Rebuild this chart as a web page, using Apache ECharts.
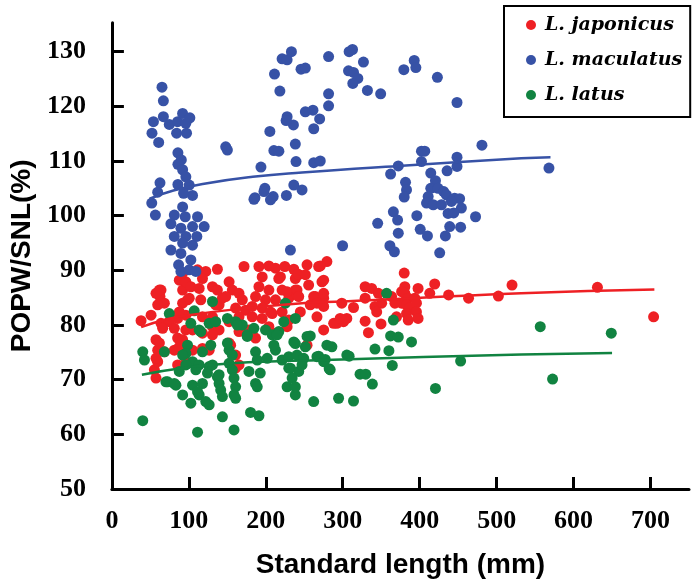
<!DOCTYPE html>
<html>
<head>
<meta charset="utf-8">
<script src="https://cdn.jsdelivr.net/npm/echarts@6/dist/echarts.min.js"></script>
<style>
html,body{margin:0;padding:0;background:#fff;}
#main{width:693px;height:585px;}
</style>
</head>
<body>
<div id="main"></div>
<script>
//数据
var seriesNames = ['L. japonicus', 'L. maculatus', 'L. latus'];
var xTicks = [0, 100, 200, 300, 400, 500, 600, 700];
var yTicks = [50, 60, 70, 80, 90, 100, 110, 120, 130];

var japonicus = [
	[37.9,80.8],[50.9,81.8],[63.8,86.4],[62.5,85.2],[68.2,84.0],[63.8,80.3],[91.9,86.4],[87.6,88.2],[111.3,90.1],[122.0,89.8],
	[137.1,90.2],[96.1,87.9],[102.6,87.0],[98.3,84.6],[115.5,84.6],[91.9,84.0],[130.7,87.0],[137.1,86.4],[117.7,81.5],[96.1,81.8],
	[85.4,81.2],[74.6,80.6],[152.3,87.9],[156.5,86.4],[147.9,85.2],[165.2,85.8],[169.5,84.6],[160.8,83.1],[173.7,82.7],[165.2,81.5],
	[171.7,90.7],[191.1,90.7],[204.0,90.8],[212.6,90.4],[224.7,90.7],[236.4,90.2],[195.3,88.8],[216.9,88.5],[238.4,88.5],[191.1,87.0],
	[204.0,86.4],[221.2,86.4],[238.4,86.4],[186.7,85.2],[199.6,84.6],[212.6,84.6],[229.9,84.9],[182.4,83.4],[195.3,83.1],[208.3,82.1],
	[182.4,81.5],[195.3,81.2],[139.3,83.7],[130.7,81.5],[221.2,82.4],
	[61.7,86.4],[59.5,83.7],[57.3,77.3],[59.5,75.4],[55.2,71.8],[59.5,73.3],[81.1,79.4],[85.4,77.6],[81.1,75.4],[91.9,77.3],
	[96.1,79.1],[104.8,79.1],[117.7,78.5],[130.7,79.7],[139.3,79.1],[126.4,75.4],[160.8,72.1],[152.3,76.7],[165.2,78.8],[178.1,79.1],
	[186.7,77.6],[212.6,78.5],[204.0,79.7],[227.7,79.7],[229.9,80.9],
	[57.3,85.8],[66.0,79.4],[61.7,76.7],[68.2,75.1],[57.3,73.9],[57.3,70.3],[85.4,72.7],[87.6,76.0],[91.9,89.5],[117.7,88.5],
	[100.5,84.9],[113.4,86.7],[134.9,83.7],[87.6,82.4],[143.6,84.9],[152.3,80.6],[130.7,78.2],[117.7,75.7],[104.8,75.4],[96.1,73.3],
	[253.6,91.0],[268.7,90.7],[279.4,91.6],[275.2,88.2],[255.7,87.3],[242.8,89.2],[219.0,88.8],[227.7,86.1],[240.6,85.5],[264.3,85.2],
	[257.8,83.7],[275.2,84.9],[298.8,84.0],[266.5,81.5],[292.3,80.3],[301.0,80.6],[275.2,79.1],[253.6,76.3],[206.1,82.4],[154.3,76.3],
	[160.8,74.5],[165.2,72.7],
	[270.8,90.8],[241.9,89.3],[251.4,89.2],[273.0,87.9],[240.6,86.4],[242.8,85.2],[262.2,85.2],[275.2,85.8],[266.5,84.0],[275.2,83.4],
	[244.9,82.4],[314.0,83.2],[288.2,80.3],[296.6,81.2],[305.3,81.2],[329.1,87.0],[337.6,86.7],[346.3,85.8],[329.1,84.9],[341.9,83.4],
	[350.6,84.0],[344.1,82.4],[329.1,80.7],[333.4,78.6],[349.7,80.2],[379.9,89.5],[380.7,87.0],[376.5,86.1],[363.5,85.2],[367.8,84.0],
	[380.7,85.8],[385.1,84.9],[376.5,84.0],[382.9,83.7],[387.2,83.1],[397.9,86.7],[393.6,84.9],[395.8,84.0],[382.9,82.1],[395.8,82.4],
	[385.1,80.9],[397.9,81.2],[369.9,81.5],[419.5,87.5],[413.1,85.8],[437.6,85.5],[463.5,84.9],[502.3,85.3],[520.0,87.3],[631.0,86.9],
	[704.0,81.5]
];

var maculatus = [
	[65.1,123.5],[66.9,121.0],[66.9,118.1],[54.0,117.2],[52.1,115.1],[60.8,113.4],[74.6,116.7],[85.4,117.2],[91.9,118.7],[101.3,117.9],
	[96.1,116.9],[84.1,115.1],[97.0,115.1],[85.8,111.5],[90.2,110.2],[85.8,109.4],[91.9,108.4],[96.1,107.1],[85.8,105.7],[100.5,105.6],
	[62.5,106.0],[59.5,104.3],[104.8,103.7],[147.9,112.6],[150.1,112.0],[193.7,108.9],[198.8,105.0],[185.9,103.3],[209.6,103.5],[226.8,103.7],
	[236.4,105.6],[239.3,109.9],[238.4,113.1],[235.9,116.6],[227.7,118.1],[226.4,117.4],[205.3,115.4],[210.5,111.9],[217.0,111.8],[218.3,122.8],
	[211.3,125.9],[221.2,128.7],[227.7,128.5],[233.3,130.0],[245.8,126.8],[251.4,127.0],[281.6,129.1],[308.3,130.0],[312.7,130.4],[326.9,128.1],
	[307.5,126.5],[314.0,126.2],[319.6,125.1],[313.1,124.2],[332.1,122.9],[349.3,122.3],[281.6,122.3],[281.6,120.1],[251.4,119.0],[261.3,119.3],
	[270.0,117.7],[262.3,115.9],[262.3,109.7],[270.8,110.0],[247.1,104.7],[379.4,126.7],[392.9,128.4],[395.0,127.1],[423.0,125.3],[448.5,120.7],
	[480.9,112.9],[402.3,111.8],[406.6,111.8],[402.3,109.9],[448.5,110.7],[448.5,109.0],[435.6,108.2],[372.2,109.1],[362.2,107.6],[414.4,107.8],
	[381.6,106.1],[382.9,104.7],[420.5,106.4],[414.4,105.0],[423.9,105.0],[431.2,104.4],[434.7,103.8],[379.9,103.4],[411.0,103.5],[445.4,103.2],
	[451.9,103.1],[51.8,102.3],[56.5,100.1],[93.2,104.1],[91.9,101.6],[81.1,100.1],[95.3,99.8],[111.3,99.8],[76.7,98.5],[89.7,97.7],
	[104.8,98.0],[119.9,98.0],[81.1,96.2],[96.1,96.2],[110.4,96.2],[91.9,95.0],[104.8,94.6],[76.7,93.7],[89.7,93.1],[102.6,91.9],
	[86.7,91.0],[89.7,89.8],[100.5,90.1],[109.1,89.8],[184.6,103.0],[206.1,102.9],[232.0,93.7],[197.6,104.4],[408.9,102.3],[417.6,102.0],
	[428.3,102.0],[441.2,102.6],[454.2,101.4],[436.9,100.4],[444.2,100.5],[472.6,99.8],[365.8,100.7],[371.3,99.2],[396.3,100.0],[345.4,98.6],
	[400.7,97.5],[410.1,96.3],[439.0,98.0],[453.2,97.9],[433.4,96.3],[372.2,96.8],[361.3,94.5],[367.1,93.4],[426.0,93.2],[299.8,94.5],
	[568.0,108.7]
];

var latus = [
	[74.6,82.1],[130.7,84.3],[107.0,82.6],[102.6,80.3],[113.4,79.1],[126.4,80.3],[134.9,80.6],[150.1,81.2],[160.8,80.6],[169.5,80.0],
	[184.6,79.4],[175.9,78.2],[199.6,79.1],[208.3,78.2],[216.9,78.8],[223.4,80.6],[225.5,84.0],[238.4,81.2],[40.1,75.1],[42.3,73.6],
	[68.2,75.1],[98.3,76.3],[96.1,74.8],[104.8,73.3],[117.7,75.1],[128.5,76.3],[113.4,72.7],[126.4,72.4],[124.2,71.2],[137.1,70.5],
	[139.3,69.3],[141.4,68.1],[152.3,75.4],[152.3,73.0],[156.5,71.8],[158.7,70.3],[160.8,68.7],[160.8,66.6],[143.6,66.9],[178.1,71.5],
	[186.7,75.1],[188.9,73.6],[186.7,69.3],[188.9,68.7],[201.8,73.9],[212.6,75.4],[221.2,73.6],[229.9,74.2],[236.4,76.9],[229.9,72.1],
	[227.7,68.7],[238.4,67.2],[72.4,69.6],[83.2,69.0],[91.9,67.2],[102.6,65.7],[104.8,69.0],[117.7,69.3],[113.4,67.2],[126.4,65.4],
	[40.1,62.5],[111.3,60.4],[143.6,63.2],[158.7,60.8],[180.2,64.0],[191.1,63.4],[87.6,71.5],
	[115.5,78.8],[70.2,69.6],[81.1,69.3],[111.3,67.8],[122.0,66.0],[91.9,74.5],[96.1,72.7],[109.1,71.8],[130.7,72.7],[139.3,70.9],
	[163.0,80.0],[214.7,78.2],[210.5,76.3],[238.4,76.6],[253.6,77.9],[251.4,76.0],[279.4,76.3],[285.9,76.0],[240.6,74.5],[249.3,73.9],
	[266.5,74.2],[275.2,73.3],[283.7,71.8],[305.3,74.5],[232.0,72.1],[242.8,71.5],[234.2,70.3],[238.4,68.7],[262.2,66.0],[294.6,66.6],
	[192.8,71.2],[158.7,67.2],[156.5,74.5],[150.1,76.7],[175.9,77.9],
	[357.0,85.8],[365.8,80.9],[362.2,78.0],[372.2,77.8],[389.4,76.9],[341.9,75.6],[360.0,75.3],[364.4,72.6],[308.3,74.3],[322.5,71.0],
	[329.9,71.0],[338.5,69.2],[314.0,66.1],[453.2,73.4],[420.5,68.4],[257.8,78.0],[268.7,74.3],[277.2,73.7],[282.4,72.0],[247.1,72.7],
	[556.7,79.7],[649.0,78.5],[572.7,70.1]
];

//趋势线
var japonicusFit = [[38,79.6],[70,81.0],[100,81.8],[156,82.8],[247,84.0],[301,84.3],[532,85.8],[705,86.5]];
var maculatusFit = [[49,103.1],[80,104.6],[118,105.8],[183,107.1],[247,107.9],[372,109.1],[532,110.5],[570,110.7]];
var latusFit = [[39,70.9],[90,72.1],[157,73.0],[277,73.6],[532,74.6],[650,74.9]];

var colors = ['#ee2024', '#3752a6', '#118341'];

var chart = echarts.init(document.getElementById('main'));
chart.setOption({
	animation: false,
	grid: {
		left: 108.5,
		right: 4,
		top: 22.7,
		bottom: 96
	},
	legend: {
		data: seriesNames,
		orient: 'vertical',
		left: 504,
		top: 6,
		padding: [9, 8, 12, 22],
		itemGap: 15,
		itemWidth: 10,
		itemHeight: 10,
		icon: 'circle',
		borderColor: '#000',
		borderWidth: 2,
		textStyle: {
			fontFamily: 'DejaVu Serif',
			fontStyle: 'italic',
			fontWeight: 'bold',
			fontSize: 19,
			lineHeight: 20,
			color: '#000',
			padding: [0, 0, 0, 4]
		}
	},
	xAxis: {
		type: 'value',
		min: 0,
		max: 750,
		interval: 100,
		name: 'Standard length (mm)',
		nameLocation: 'middle',
		nameGap: 62,
		nameTextStyle: {
			fontFamily: 'Liberation Sans',
			fontWeight: 'bold',
			fontSize: 28,
			color: '#000'
		},
		axisLine: {onZero: false, lineStyle: {color: '#000', width: 3}},
		axisTick: {inside: true, length: 12, lineStyle: {color: '#000', width: 3}, customValues: xTicks},
		axisLabel: {
			customValues: xTicks,
			margin: 19,
			fontFamily: 'Liberation Sans Narrow',
			fontWeight: 'bold',
			fontSize: 26,
			color: '#000'
		},
		splitLine: {show: false}
	},
	yAxis: {
		type: 'value',
		min: 50,
		max: 135.3,
		interval: 10,
		name: 'POPW/SNL(%)',
		nameLocation: 'middle',
		nameGap: 62,
		nameTextStyle: {
			fontFamily: 'Liberation Sans',
			fontWeight: 'bold',
			fontSize: 28,
			color: '#000'
		},
		axisLine: {show: true, onZero: false, lineStyle: {color: '#000', width: 3}},
		axisTick: {show: true, inside: true, length: 12, lineStyle: {color: '#000', width: 3}, customValues: yTicks},
		axisLabel: {
			customValues: yTicks,
			margin: 26,
			fontFamily: 'Liberation Sans Narrow',
			fontWeight: 'bold',
			fontSize: 26,
			color: '#000'
		},
		splitLine: {show: false}
	},
	series: [
		{
			name: seriesNames[0],
			type: 'scatter',
			symbolSize: 11,
			itemStyle: {color: colors[0], opacity: 1},
			data: japonicus
		},
		{
			name: seriesNames[2],
			type: 'scatter',
			symbolSize: 11,
			itemStyle: {color: colors[2], opacity: 1},
			data: latus
		},
		{
			name: seriesNames[1],
			type: 'scatter',
			symbolSize: 11,
			itemStyle: {color: colors[1], opacity: 1},
			data: maculatus
		},
		{
			type: 'line',
			smooth: true,
			showSymbol: false,
			lineStyle: {color: colors[1], width: 2.5},
			data: maculatusFit
		},
		{
			type: 'line',
			smooth: true,
			showSymbol: false,
			lineStyle: {color: colors[0], width: 2.5},
			data: japonicusFit
		},
		{
			type: 'line',
			smooth: true,
			showSymbol: false,
			lineStyle: {color: colors[2], width: 2.5},
			data: latusFit
		}
	]
});
</script>
</body>
</html>
